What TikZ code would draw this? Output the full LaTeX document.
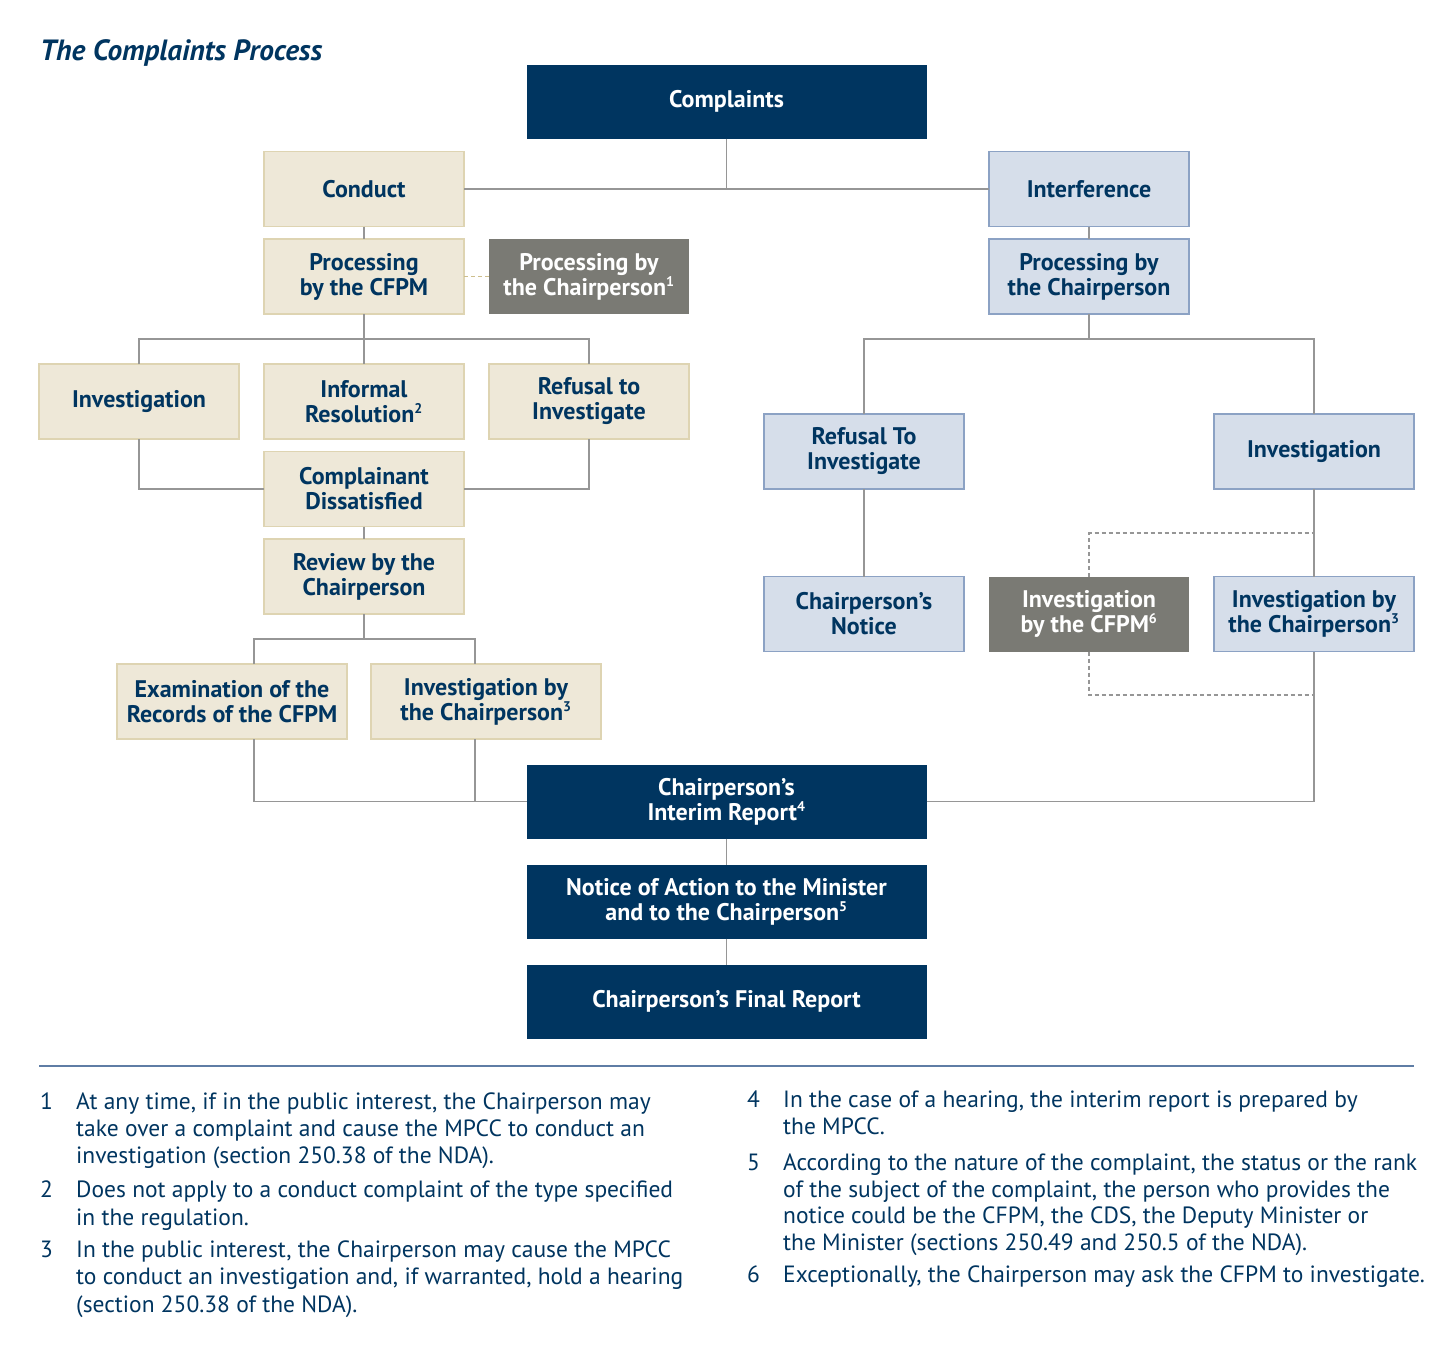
\documentclass[tikz,border=0pt]{standalone}
\usepackage{fontspec}
\setmainfont{PT Sans}
\newfontfamily\ptsans{PT Sans}
\definecolor{navy}{RGB}{0,53,96}
\definecolor{beigefill}{RGB}{238,232,216}
\definecolor{beigeline}{RGB}{222,212,178}
\definecolor{bluefill}{RGB}{214,222,234}
\definecolor{blueline}{RGB}{140,162,196}
\definecolor{greyfill}{RGB}{122,122,116}
\definecolor{conngray}{RGB}{150,150,150}
\definecolor{dashbeige}{RGB}{205,190,140}
\definecolor{rulecol}{RGB}{95,125,165}
\newcommand\boxfont{\ptsans\bfseries\fontsize{24}{25}\selectfont}
\newcommand\fnfont{\ptsans\fontsize{23.5}{27}\selectfont}
\newcommand\sps[1]{\textsuperscript{\fontsize{14}{14}\selectfont #1}}
\begin{document}
\begin{tikzpicture}[x=1pt,y=-1pt,
  box/.style={rectangle, inner sep=0pt, outer sep=0pt, minimum width=200pt, minimum height=75pt, align=center, font=\boxfont, text=navy},
  beige/.style={box, fill=beigefill, draw=beigeline, line width=1.5pt},
  lblue/.style={box, fill=bluefill, draw=blueline, line width=1.5pt},
  grey/.style={box, fill=greyfill, text=white},
  dark/.style={box, fill=navy, text=white, minimum width=400pt, minimum height=74pt},
  conn/.style={draw=conngray, line width=1.5pt},
  dashb/.style={draw=dashbeige, line width=1.2pt, dash pattern=on 4pt off 3pt},
  dashg/.style={draw=conngray, line width=1.2pt, dash pattern=on 4pt off 3pt},
  fn/.style={anchor=base west, inner sep=0pt, font=\fnfont, text=navy},
]
\useasboundingbox (0,0) rectangle (1455,1353);
\fill[white] (0,0) rectangle (1455,1353);

\node[anchor=base west, inner sep=0pt, text=navy, font=\ptsans\bfseries\itshape\fontsize{29.3}{32}\selectfont] (title) at (40,60) {The Complaints Process};

\coordinate (j1) at (364,339);
\coordinate (j2) at (364,639);
\coordinate (j3) at (1089,339);
\coordinate (d1) at (1314,533);
\coordinate (d2) at (1314,695);

% boxes
\node[dark] (complaints) at (726.5,101.5) {Complaints};
\node[beige] (conduct) at (364,189) {Conduct};
\node[lblue] (interf) at (1089,189) {Interference};
\node[beige] (proccfpm) at (364,276.5) {Processing\\by the CFPM};
\node[grey] (procchairA) at (589,276.5) {Processing by\\the Chairperson\sps{1}};
\node[lblue] (procchairB) at (1089,276.5) {Processing by\\the Chairperson};
\node[beige] (invL) at (139,401.5) {Investigation};
\node[beige] (informal) at (364,401.5) {Informal\\Resolution\sps{2}};
\node[beige] (refusalL) at (589,401.5) {Refusal to\\Investigate};
\node[beige] (dissat) at (364,489) {Complainant\\Dissatisfied};
\node[beige] (review) at (364,576.5) {Review by the\\Chairperson};
\node[beige, minimum width=230pt] (exam) at (232,701.5) {Examination of the\\Records of the CFPM};
\node[beige, minimum width=230pt] (invchairL) at (486,701.5) {Investigation by\\the Chairperson\sps{3}};
\node[lblue] (refusalR) at (864,451.5) {Refusal To\\Investigate};
\node[lblue] (invR) at (1314,451.5) {Investigation};
\node[lblue] (notice) at (864,614) {Chairperson’s\\Notice};
\node[grey] (invcfpm) at (1089,614) {Investigation\\by the CFPM\sps{6}};
\node[lblue] (invchairR) at (1314,614) {Investigation by\\the Chairperson\sps{3}};
\node[dark] (interim) at (726.5,801.5) {Chairperson’s\\Interim Report\sps{4}};
\node[dark] (noticeact) at (726.5,901.5) {Notice of Action to the Minister\\and to the Chairperson\sps{5}};
\node[dark] (final) at (726.5,1001.5) {Chairperson’s Final Report};

\draw[conn] (conduct.east) -- (interf.west);
\draw[conn] (complaints.south) -- (complaints.south |- conduct.east);
\draw[conn] (conduct) -- (proccfpm);
\draw[dashb] (proccfpm.east) -- (procchairA.west);
\draw[conn] (interf) -- (procchairB);
\draw[conn] (proccfpm.south) -- (informal.north);
\draw[conn] (invL.north) |- (j1) -| (refusalL.north);
\draw[conn] (invL.south) |- (dissat.west);
\draw[conn] (refusalL.south) |- (dissat.east);
\draw[conn] (dissat) -- (review);
\draw[conn] (review.south) -- (j2);
\draw[conn] ([xshift=22pt]exam.north) |- (j2) -| ([xshift=-11pt]invchairL.north);
\draw[conn] ([xshift=22pt]exam.south) |- (interim.west);
\draw[conn] ([xshift=-11pt]invchairL.south) -- ([xshift=-11pt]invchairL.south |- interim.west);
\draw[conn] (interim.east) -| (invchairR.south);
\draw[conn] (procchairB.south) -- (j3);
\draw[conn] (refusalR.north) |- (j3) -| (invR.north);
\draw[conn] (refusalR) -- (notice);
\draw[conn] (invR) -- (invchairR);
\draw[dashg] (invcfpm.north) |- (d1);
\draw[dashg] (invcfpm.south) |- (d2);
\draw[conn] (interim) -- (noticeact);
\draw[conn] (noticeact) -- (final);

% rule
\coordinate (r1) at (39,1066);
\coordinate (r2) at (1414,1066);
\draw[rulecol, line width=1.5pt] (r1) -- (r2);

% footnotes left
\node[fn] (n1) at (40,1109) {1};
\node[fn] (f1a) at (76,1109) {At any time, if in the public interest, the Chairperson may};
\node[fn] (f1b) at (76,1136) {take over a complaint and cause the MPCC to conduct an};
\node[fn] (f1c) at (76,1163) {investigation (section 250.38 of the NDA).};
\node[fn] (n2) at (40,1197) {2};
\node[fn] (f2a) at (76,1197) {Does not apply to a conduct complaint of the type specified};
\node[fn] (f2b) at (76,1225) {in the regulation.};
\node[fn] (n3) at (40,1257) {3};
\node[fn] (f3a) at (76,1257) {In the public interest, the Chairperson may cause the MPCC};
\node[fn] (f3b) at (76,1284) {to conduct an investigation and, if warranted, hold a hearing};
\node[fn] (f3c) at (76,1312) {(section 250.38 of the NDA).};
% footnotes right
\node[fn] (n4) at (747,1107) {4};
\node[fn] (f4a) at (783,1107) {In the case of a hearing, the interim report is prepared by};
\node[fn] (f4b) at (783,1134) {the MPCC.};
\node[fn] (n5) at (747,1170) {5};
\node[fn] (f5a) at (783,1170) {According to the nature of the complaint, the status or the rank};
\node[fn] (f5b) at (783,1197) {of the subject of the complaint, the person who provides the};
\node[fn] (f5c) at (783,1223) {notice could be the CFPM, the CDS, the Deputy Minister or};
\node[fn] (f5d) at (783,1250) {the Minister (sections 250.49 and 250.5 of the NDA).};
\node[fn] (n6) at (747,1282) {6};
\node[fn] (f6a) at (783,1282) {Exceptionally, the Chairperson may ask the CFPM to investigate.};
\end{tikzpicture}
\end{document}
